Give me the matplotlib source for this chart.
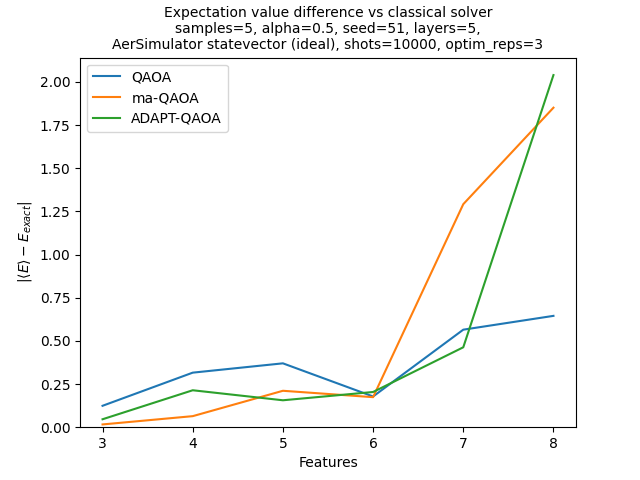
import numpy as np
import matplotlib
matplotlib.use('Agg')
from matplotlib import pyplot as plt

features = [3, 4, 5, 6, 7, 8]
qaoa = [0.124, 0.316, 0.370, 0.178, 0.565, 0.645]
ma_qaoa = [0.016, 0.064, 0.211, 0.174, 1.292, 1.851]
adapt_qaoa = [0.046, 0.214, 0.156, 0.204, 0.463, 2.040]

fig, ax = plt.subplots(figsize=(6.4, 4.8), dpi=100)
ax.plot(features, qaoa, label='QAOA')
ax.plot(features, ma_qaoa, label='ma-QAOA')
ax.plot(features, adapt_qaoa, label='ADAPT-QAOA')
ax.set_ylim(bottom=0)
ax.set_xlabel('Features')
ax.set_ylabel(r'$|\langle E\rangle - E_{exact}|$')
ax.set_title('Expectation value difference vs classical solver\n'
             'samples=5, alpha=0.5, seed=51, layers=5,\n'
             'AerSimulator statevector (ideal), shots=10000, optim_reps=3',
             fontsize=10)
ax.legend()
plt.savefig('out.png')
